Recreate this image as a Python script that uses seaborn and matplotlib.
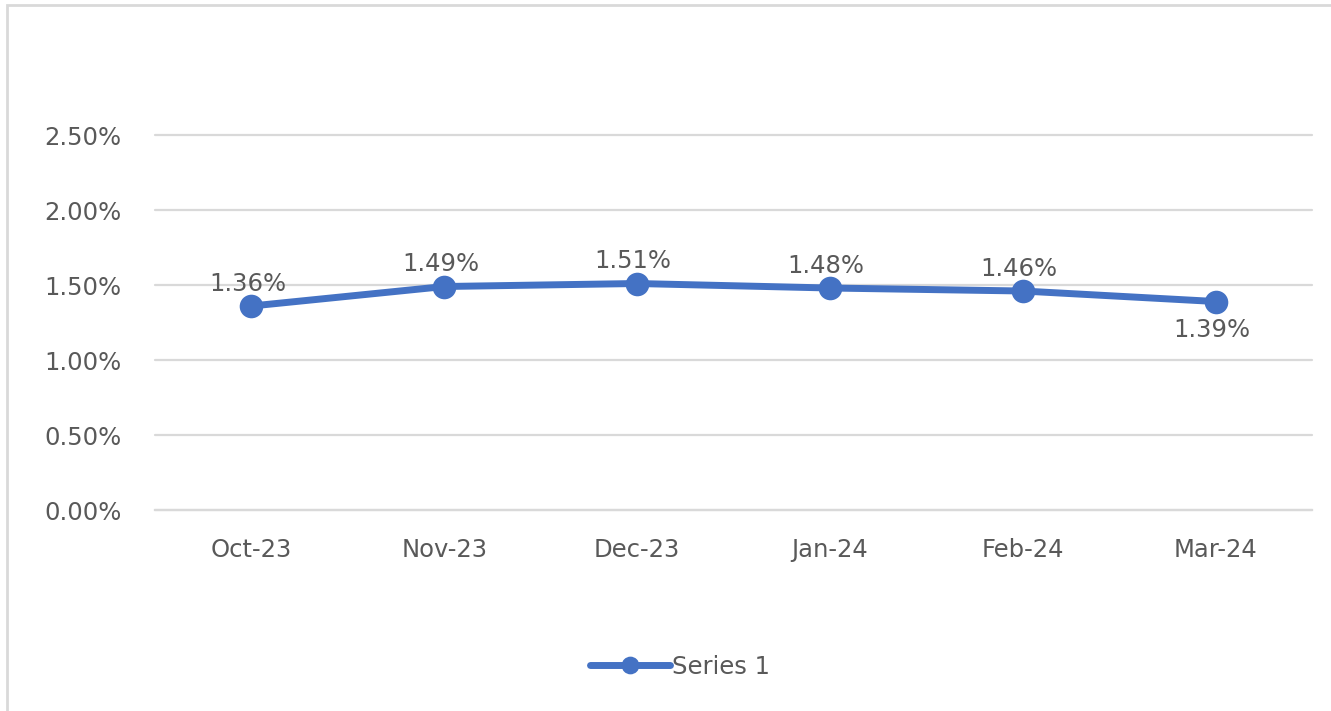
import numpy as np
import pandas as pd
import matplotlib
matplotlib.use('Agg')
import matplotlib.pyplot as plt
import seaborn as sns
from matplotlib.patches import Rectangle
from matplotlib.ticker import FuncFormatter

# dane z wykresu
months = ['Oct-23', 'Nov-23', 'Dec-23', 'Jan-24', 'Feb-24', 'Mar-24']
rates = [1.36, 1.49, 1.51, 1.48, 1.46, 1.39]  # w procentach
label_above = [True, True, True, True, True, False]
series_name = 'Series 1'

df = pd.DataFrame({'month': months, 'rate': rates})

sns.set_style('white')
plt.rcParams['font.family'] = ['DejaVu Sans']

blue = '#4472C4'
grey_txt = '#595959'
grid_col = '#D9D9D9'
fs = 17.5

fig = plt.figure(figsize=(13.31, 7.11), dpi=100)
ax = fig.add_axes([0.1165, 0.2827, 0.8692, 0.5274])

sns.lineplot(data=df, x='month', y='rate', ax=ax, color=blue, linewidth=5,
             marker='o', markersize=17, markeredgewidth=0, label=series_name,
             sort=False)

ax.set_ylim(0, 2.5)
ax.set_xlim(-0.5, len(months) - 0.5)
ax.set_yticks(np.arange(0, 2.51, 0.5))
ax.yaxis.set_major_formatter(FuncFormatter(lambda v, p: f'{v:.2f}%'))
ax.grid(axis='y', color=grid_col, linewidth=1.6)
for gl in ax.get_ygridlines():
    gl.set_clip_on(False)
ax.set_axisbelow(True)

for s in ['top', 'right', 'left']:
    ax.spines[s].set_visible(False)
ax.spines['bottom'].set_color(grid_col)
ax.spines['bottom'].set_linewidth(1.6)

ax.set_xticks(np.arange(-0.5, len(months), 1), minor=True)
ax.tick_params(axis='x', which='minor', length=8, width=1.6, color=grid_col)
ax.tick_params(axis='x', which='major', length=0, pad=20, labelsize=fs, labelcolor=grey_txt)
ax.tick_params(axis='y', length=0, pad=24, labelsize=fs, labelcolor=grey_txt)
ax.set_xlabel('')
ax.set_ylabel('')

# etykiety danych
for i, (v, up) in enumerate(zip(rates, label_above)):
    off = 0.15 if up else -0.19
    ax.text(i - 0.02, v + off, f'{v:.2f}%', ha='center', va='center',
            fontsize=fs, color=grey_txt)

ax.legend_.remove()
h, l = ax.get_legend_handles_labels()
fig.legend(h, l, loc='center', bbox_to_anchor=(0.511, 0.062), frameon=False,
           fontsize=fs, labelcolor=grey_txt, handlelength=3.3, handletextpad=0.1,
           markerscale=0.75)

# ramka wykresu (widoczna tylko z lewej i u gory)
fig.patches.append(Rectangle((7 / 1331, -0.1), 1.2, 1.1 - 5 / 711,
                             transform=fig.transFigure, fill=False,
                             edgecolor='#D9D9D9', linewidth=2))

plt.savefig('out.png', dpi=100)
plt.close()
